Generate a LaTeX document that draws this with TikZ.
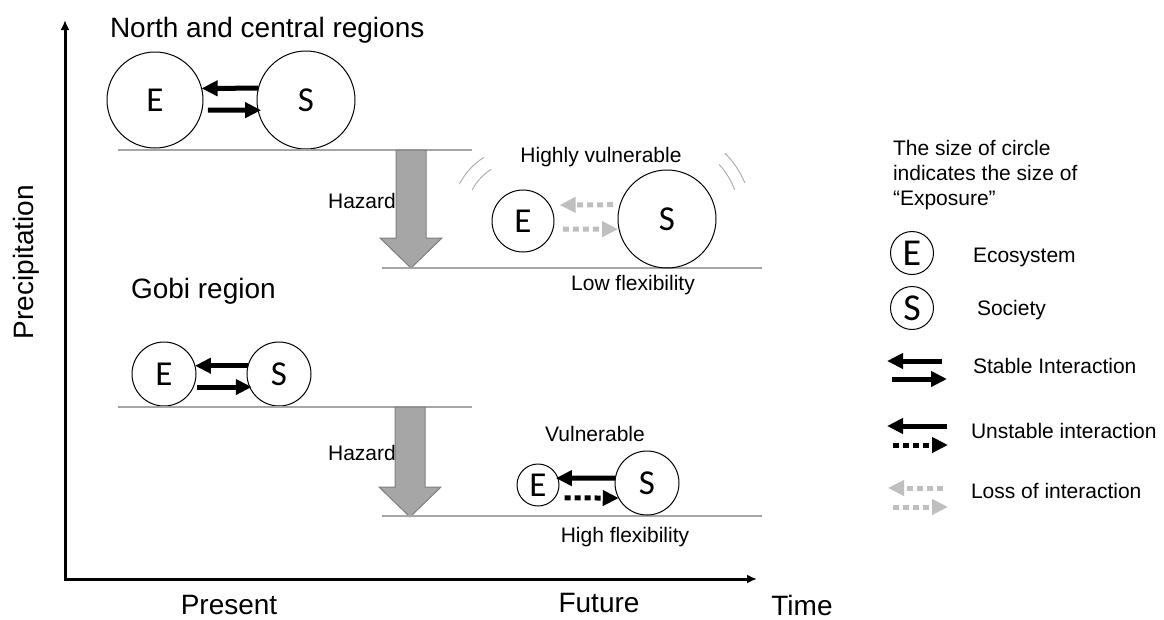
\documentclass[tikz,border=0pt]{standalone}
\usepackage{fontspec}
\setmainfont{Liberation Sans}
\newfontfamily\letterfont{Carlito}
\usetikzlibrary{arrows.meta}
\definecolor{linegray}{HTML}{A6A6A6}
\definecolor{lossgray}{HTML}{BFBFBF}
\definecolor{hazfill}{HTML}{A6A6A6}
\definecolor{hazedge}{HTML}{7F7F7F}
\definecolor{arcgray}{HTML}{B0B0B0}
\begin{document}
\begin{tikzpicture}[x=1pt,y=-1pt,
  every node/.style={inner sep=0pt, outer sep=0pt},
  circ/.style={draw=black, line width=1pt, circle, minimum size=#1,
    font=\letterfont\fontsize{35}{35}\selectfont},
  legcirc/.style={draw=black, line width=1pt, circle, minimum size=#1,
    font=\letterfont\fontsize{38}{38}\selectfont},
  bigtext/.style={font=\fontsize{28}{32}\selectfont},
  lbl/.style={font=\fontsize{21}{24}\selectfont},
  baseline/.style={draw=linegray, line width=1.2pt},
  stable/.style={line width=5pt, -{Triangle[length=16pt,width=15pt]}},
  unstab/.style={line width=5pt, dash pattern=on 6pt off 4pt, -{Triangle[length=16pt,width=15pt]}},
  loss/.style={draw=lossgray, line width=5pt, dash pattern=on 6pt off 4pt, -{Triangle[length=16pt,width=15pt]}},
  hazard/.style={fill=hazfill, draw=hazedge, line width=1pt},
  vib/.style={draw=arcgray, line width=1pt},
  axis/.style={line width=3pt, -{Latex[length=10pt,width=9pt]}}
]
\useasboundingbox (0,0) rectangle (1164,619);

% axes
\coordinate (origin) at (65,579);
\coordinate (ytop) at (65,20);
\coordinate (xend) at (757,579);
\draw[axis] (origin) -- (ytop);
\draw[axis] ([xshift=-1.5pt]origin) -- (xend);

\node[bigtext, rotate=90, anchor=base] (ylab) at (33,262) {Precipitation};
\node[bigtext, anchor=base] (present) at (229,614) {Present};
\node[bigtext, anchor=base] (future) at (599,612) {Future};
\node[bigtext, anchor=base] (time) at (802,615) {Time};

% ---------- North and central regions ----------
\node[bigtext, anchor=base west] (title1) at (110,37) {North and central regions};
\node[circ=96pt] (E1) at (155,100) {E};
\node[circ=98pt] (S1) at (306,100) {S};
\draw[stable] (S1.166) -- (E1.14);
\draw[stable, shorten <=6pt, shorten >=-3pt] (E1.-12) -- (S1.-168);
\draw[baseline] (118,150) -- (472,150);

\draw[hazard] (396,150) -- (426,150) -- (426,238) -- (442,238) -- (411,268)
  -- (380,238) -- (396,238) -- cycle;
\node[lbl, anchor=base] (haz1) at (362,208) {Hazard};
\draw[baseline] (382,268) -- (762,268);

\node[lbl, anchor=base] (hv) at (601,162) {Highly vulnerable};
\node[circ=62pt] (E2) at (523,221) {E};
\node[circ=98pt] (S2) at (667,219) {S};
\draw[loss, shorten <=7pt, shorten >=10pt] (S2.163) -- (E2.31);
\draw[loss, shorten <=10pt, shorten >=1pt] (E2.-15) -- (S2.-168);
\node[lbl, anchor=base] (lf) at (633,290) {Low flexibility};
\draw[vib] (520,215) ++(-122:68) arc[start angle=-122, end angle=-153, radius=68];
\draw[vib] (520,215) ++(-122:54) arc[start angle=-122, end angle=-152, radius=54];
\draw[vib] (665,215) ++(-46:86) arc[start angle=-46, end angle=-22, radius=86];
\draw[vib] (665,215) ++(-43:74) arc[start angle=-43, end angle=-20, radius=74];

% ---------- Gobi region ----------
\node[bigtext, anchor=base west] (title2) at (131,298) {Gobi region};
\node[circ=64pt] (E3) at (164,374) {E};
\node[circ=64pt] (S3) at (279,374) {S};
\draw[stable] (S3.165) -- (E3.15);
\draw[stable, shorten <=4pt, shorten >=-2pt] (E3.-24) -- (S3.-156);
\draw[baseline] (118,407) -- (472,407);

\draw[hazard] (395,407) -- (425,407) -- (425,487) -- (441,487) -- (410,517)
  -- (379,487) -- (395,487) -- cycle;
\node[lbl, anchor=base] (haz2) at (362,460) {Hazard};
\draw[baseline] (382,516) -- (762,516);

\node[lbl, anchor=base] (vul) at (595,441) {Vulnerable};
\node[circ=42pt] (E4) at (538,485) {E};
\node[circ=64pt] (S4) at (647,483) {S};
\draw[stable, shorten >=-2pt] (S4.171) -- (E4.19);
\draw[unstab, shorten <=10pt] (E4.-38) -- (S4.-152);
\node[lbl, anchor=base] (hf) at (625,542) {High flexibility};

% ---------- Legend ----------
\node[lbl, anchor=base west] (leg1) at (893,155) {The size of circle};
\node[lbl, anchor=base west] (leg2) at (893,180) {indicates the size of};
\node[lbl, anchor=base west] (leg3) at (893,205) {“Exposure”};

\node[legcirc=43pt] (LE) at (912,253) {E};
\node[lbl, anchor=base west] (eco) at (973,262) {Ecosystem};
\node[legcirc=43pt] (LS) at (912,308) {S};
\node[lbl, anchor=base west] (soc) at (977,315) {Society};

\coordinate (sa1) at (942,361); \coordinate (sb1) at (887,361);
\coordinate (sa2) at (892,379); \coordinate (sb2) at (947,379);
\draw[stable] (sa1) -- (sb1);
\draw[stable] (sa2) -- (sb2);
\node[lbl, anchor=base west] (stab) at (973,373) {Stable Interaction};

\coordinate (ua1) at (947,426); \coordinate (ub1) at (887,426);
\coordinate (ua2) at (893,445); \coordinate (ub2) at (948,445);
\draw[stable] (ua1) -- (ub1);
\draw[unstab] (ua2) -- (ub2);
\node[lbl, anchor=base west] (unst) at (971,438) {Unstable interaction};

\coordinate (la1) at (943,488); \coordinate (lb1) at (888,488);
\coordinate (la2) at (893,507); \coordinate (lb2) at (948,507);
\draw[loss] (la1) -- (lb1);
\draw[loss] (la2) -- (lb2);
\node[lbl, anchor=base west] (lossl) at (971,498) {Loss of interaction};
\end{tikzpicture}
\end{document}
